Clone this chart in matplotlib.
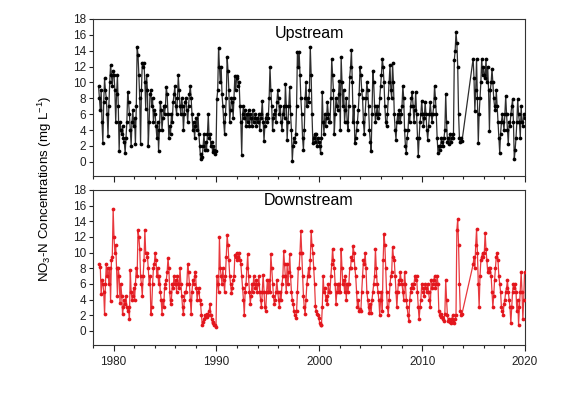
import numpy as np
import matplotlib
matplotlib.use("Agg")
import matplotlib.pyplot as plt
from matplotlib.ticker import MultipleLocator

nan = np.nan

# Monthly NO3-N concentrations (mg/L); one row = one year (Jan..Dec)
first_year = 1978
last_year = 2019

upstream_no3 = [
    nan, nan, nan, nan, nan, nan, 9.5, 8.0, 6.5, 9.0, 5.0, 2.4,          # 1978
    7.5, 10.5, 9.0, 8.0, 6.0, 3.3, 7.0, 10.0, 12.2, 11.0, 9.5, 11.5,    # 1979
    11.0, 9.0, 5.0, 8.5, 10.9, 7.0, 1.4, 5.0, 4.0, 3.5, 4.5, 3.0,       # 1980
    2.5, 1.1, 3.0, 5.0, 8.8, 7.5, 6.0, 4.0, 2.0, 5.0, 6.5, 4.5,         # 1981
    5.5, 2.2, 7.0, 14.5, 13.5, 11.0, 8.0, 2.2, 9.0, 12.5, 12.0, 12.5,   # 1982
    10.0, 6.7, 11.0, 9.0, 2.0, 5.0, 8.5, 9.0, 7.0, 8.0, 5.0, 6.5,       # 1983
    6.0, 4.5, 3.0, 5.0, 1.4, 4.0, 7.5, 6.5, 4.0, 5.5, 7.0, 6.0,         # 1984
    7.0, 9.4, 8.5, 6.0, 3.0, 4.5, 3.5, 6.0, 5.0, 7.5, 8.5, 9.5,         # 1985
    7.0, 6.0, 8.0, 10.9, 9.0, 7.0, 6.0, 8.0, 7.0, 4.0, 6.0, 7.5,        # 1986
    8.0, 6.5, 5.0, 7.0, 8.5, 9.6, 8.0, 6.0, 4.0, 5.0, 3.0, 4.5,         # 1987
    5.5, 4.0, 6.0, 3.5, 2.0, 0.3, 1.0, 0.6, 2.0, 3.5, 1.5, 2.5,         # 1988
    1.5, 3.5, 6.0, 3.0, 3.5, 2.0, 2.5, 1.2, 2.0, 1.5, 1.0, 1.3,         # 1989
    7.9, 9.0, 14.4, 12.0, 10.0, 12.0, 8.5, 7.0, 5.0, 3.5, 6.0, 8.0,     # 1990
    13.2, 11.5, 9.0, 5.0, 6.5, 8.0, 7.5, 5.5, 8.0, 10.8, 9.0, 10.5,     # 1991
    10.8, 9.5, 10.0, 7.0, 5.0, 0.9, 6.0, 7.0, 5.5, 6.5, 4.5, 6.0,       # 1992
    5.0, 6.5, 4.5, 6.0, 5.5, 4.5, 6.5, 5.0, 5.5, 6.0, 4.5, 5.5,         # 1993
    5.0, 6.0, 4.0, 5.5, 6.0, 7.7, 5.0, 2.6, 4.5, 5.5, 6.0, 5.0,         # 1994
    5.5, 8.0, 11.9, 9.0, 7.0, 4.0, 5.5, 6.0, 6.5, 5.0, 7.5, 9.0,        # 1995
    8.0, 6.0, 7.0, 5.0, 4.0, 6.0, 7.0, 5.5, 9.8, 7.0, 2.8, 5.0,         # 1996
    7.0, 9.4, 6.0, 4.0, 0.1, 2.0, 3.0, 2.5, 3.5, 7.0, 13.9, 12.0,       # 1997
    13.9, 11.0, 8.0, 6.0, 3.0, 1.5, 4.0, 8.0, 10.0, 7.0, 8.0, 7.5,      # 1998
    9.0, 14.5, 11.0, 6.0, 2.4, 3.0, 3.5, 2.5, 3.5, 2.0, 3.0, 2.5,       # 1999
    2.0, 1.1, 3.0, 8.8, 5.0, 3.5, 6.0, 4.5, 5.5, 7.5, 6.0, 5.0,         # 2000
    5.0, 8.0, 13.0, 11.0, 9.0, 3.5, 6.0, 8.0, 7.0, 6.5, 8.5, 10.2,      # 2001
    4.0, 13.2, 10.0, 7.0, 9.0, 5.0, 6.5, 8.0, 5.0, 4.0, 7.0, 10.7,      # 2002
    12.0, 14.1, 10.0, 5.0, 7.0, 2.4, 3.0, 4.0, 5.0, 6.5, 8.5, 11.9,     # 2003
    11.0, 9.0, 8.0, 5.0, 3.5, 6.0, 8.0, 10.0, 9.0, 7.0, 4.0, 2.5,       # 2004
    1.4, 6.0, 11.5, 10.0, 7.0, 5.0, 6.0, 7.0, 5.5, 6.0, 8.0, 9.5,       # 2005
    11.0, 13.0, 12.0, 10.0, 7.0, 5.0, 4.5, 6.0, 8.0, 10.0, 12.2, 9.0,   # 2006
    8.0, 12.4, 10.0, 6.0, 4.0, 2.8, 5.0, 6.0, 5.0, 6.5, 5.0, 6.0,       # 2007
    7.0, 9.6, 8.0, 4.0, 2.0, 1.1, 3.0, 4.0, 6.0, 5.0, 7.0, 8.0,         # 2008
    8.8, 7.0, 5.0, 6.5, 8.8, 6.0, 3.0, 0.7, 3.0, 5.0, 6.0, 7.7,         # 2009
    6.0, 4.5, 5.5, 7.5, 6.0, 4.0, 2.8, 4.5, 6.0, 7.5, 6.0, 5.0,         # 2010
    6.0, 7.0, 9.6, 8.0, 6.0, 3.0, 1.1, 2.0, 1.5, 2.0, 3.0, 2.5,         # 2011
    2.0, 3.0, 4.0, 8.6, 5.0, 2.5, 3.0, 2.2, 3.5, 2.5, 3.0, 3.5,         # 2012
    3.0, 12.8, 14.0, 16.3, 15.0, 12.0, 6.0, 3.0, 2.5, 3.0, 2.6, nan,    # 2013
    nan, nan, nan, nan, nan, nan, nan, nan, nan, nan, nan, 13.0,        # 2014
    10.5, 6.4, 9.0, 13.0, 8.0, 2.4, 6.0, 8.0, 10.0, 13.0, 11.0, 12.0,   # 2015
    11.0, 10.5, 13.0, 10.0, 12.0, 9.0, 3.9, 9.0, 10.0, 11.7, 10.0, 8.0, # 2016
    7.0, 6.5, 9.0, 7.0, 5.0, 3.0, 1.1, 3.5, 5.0, 6.0, 5.0, 4.0,         # 2017
    6.0, 8.3, 6.0, 4.0, 2.2, 5.0, 4.5, 6.0, 7.0, 7.9, 5.0, 0.3,         # 2018
    1.5, 3.0, 5.0, 7.9, 6.0, 5.0, 3.0, 7.0, 5.0, 4.5, 6.0, 5.5,         # 2019
]

downstream_no3 = [
    nan, nan, nan, nan, nan, nan, nan, 8.5, 8.2, 4.7, 6.5, 6.0,         # 1978
    5.0, 2.1, 6.0, 8.5, 7.0, 8.0, 6.0, 8.0, 3.8, 9.0, 9.5, 15.6,        # 1979
    12.0, 10.0, 11.0, 8.0, 4.5, 8.0, 7.0, 3.6, 6.0, 4.5, 2.1, 3.0,      # 1980
    4.0, 3.5, 4.5, 3.0, 2.5, 3.0, 1.5, 7.8, 5.0, 4.0, 4.5, 5.5,         # 1981
    4.0, 6.0, 8.0, 7.0, 12.9, 12.0, 10.5, 7.0, 6.0, 4.5, 7.0, 9.0,      # 1982
    12.9, 10.0, 10.0, 9.5, 8.0, 6.0, 7.0, 2.2, 3.0, 6.0, 8.0, 8.5,      # 1983
    10.0, 9.0, 7.0, 8.0, 6.0, 7.0, 5.0, 4.0, 2.2, 4.0, 3.0, 5.5,        # 1984
    6.0, 6.5, 7.5, 9.3, 8.0, 5.0, 3.5, 4.0, 6.0, 5.5, 7.0, 6.0,         # 1985
    6.5, 5.0, 7.0, 6.0, 5.5, 8.0, 6.0, 4.5, 3.0, 2.1, 4.0, 5.0,         # 1986
    5.0, 6.0, 8.5, 7.5, 6.0, 4.0, 2.1, 5.0, 6.5, 6.0, 7.0, 7.5,         # 1987
    5.5, 4.0, 5.0, 5.5, 4.0, 3.5, 2.0, 0.8, 1.2, 1.5, 2.0, 1.8,         # 1988
    2.2, 1.8, 2.0, 2.5, 3.5, 2.0, 1.5, 1.0, 1.2, 0.8, 0.7, 0.5,         # 1989
    7.0, 6.0, 5.0, 12.0, 8.0, 7.0, 6.0, 8.0, 6.5, 5.0, 7.0, 9.5,        # 1990
    12.2, 11.0, 9.0, 7.0, 6.0, 4.8, 5.5, 6.5, 7.0, 9.7, 9.5, 10.0,      # 1991
    9.0, 9.5, 10.0, 9.0, 8.5, 7.0, 5.5, 4.0, 2.0, 5.0, 6.0, 8.0,        # 1992
    9.8, 7.0, 5.0, 3.5, 4.5, 6.0, 5.0, 7.0, 6.0, 5.5, 6.5, 5.0,         # 1993
    6.0, 7.0, 5.0, 4.0, 3.0, 5.0, 7.2, 5.0, 3.0, 2.5, 5.0, 6.5,         # 1994
    5.0, 6.5, 5.0, 9.8, 8.0, 6.0, 4.5, 3.5, 4.0, 5.0, 6.5, 5.0,         # 1995
    4.0, 3.0, 5.0, 4.0, 6.0, 7.0, 10.2, 8.5, 7.0, 5.0, 8.5, 6.0,        # 1996
    7.5, 9.8, 7.0, 5.0, 4.0, 3.5, 2.5, 2.0, 1.7, 2.5, 5.0, 8.0,         # 1997
    8.0, 10.0, 12.8, 10.0, 7.0, 4.5, 3.0, 2.1, 4.0, 6.0, 7.0, 8.0,      # 1998
    7.0, 9.0, 12.7, 11.0, 10.0, 8.0, 6.0, 3.2, 2.5, 2.1, 2.0, 1.6,      # 1999
    1.0, 0.8, 0.7, 3.0, 7.0, 5.0, 5.5, 4.0, 4.5, 3.5, 6.0, 5.0,         # 2000
    5.0, 7.0, 8.5, 10.5, 9.0, 8.0, 6.0, 3.5, 5.0, 6.0, 5.0, 6.0,        # 2001
    5.0, 10.5, 8.0, 6.0, 6.5, 5.0, 7.0, 4.0, 6.0, 5.0, 6.0, 8.0,        # 2002
    8.0, 9.5, 9.0, 10.8, 10.0, 8.0, 7.0, 5.0, 3.0, 4.0, 2.5, 2.8,       # 2003
    2.5, 5.0, 7.0, 9.0, 8.5, 10.0, 8.0, 5.0, 4.0, 3.0, 2.3, 3.5,        # 2004
    2.3, 4.0, 5.0, 6.0, 7.0, 10.5, 8.0, 6.0, 5.0, 4.0, 2.0, 4.0,        # 2005
    5.0, 2.5, 9.0, 12.4, 11.0, 8.0, 5.0, 3.0, 2.0, 4.0, 6.0, 7.0,       # 2006
    7.5, 10.7, 9.5, 9.0, 7.0, 5.0, 3.0, 5.0, 6.5, 6.0, 7.5, 6.5,        # 2007
    6.0, 5.0, 4.0, 7.5, 6.0, 4.0, 3.0, 2.0, 1.3, 4.0, 5.0, 5.5,         # 2008
    6.0, 5.5, 6.0, 7.0, 6.5, 7.0, 5.0, 3.0, 1.5, 3.0, 4.0, 6.0,         # 2009
    5.5, 5.0, 4.5, 6.0, 5.5, 5.0, 6.0, 5.0, 4.0, 3.0, 6.5, 5.5,         # 2010
    6.0, 6.5, 7.0, 5.5, 6.0, 7.0, 6.0, 2.5, 2.0, 1.8, 2.2, 1.8,         # 2011
    1.5, 1.3, 2.2, 6.5, 4.0, 2.0, 1.3, 1.5, 1.2, 1.0, 1.5, 2.0,         # 2012
    1.2, 1.0, 1.5, 2.0, 12.9, 14.3, 11.0, 6.0, 2.5, 2.0, 2.2, nan,      # 2013
    nan, nan, nan, nan, nan, nan, nan, nan, nan, nan, nan, 8.5,         # 2014
    9.5, 8.0, 11.0, 13.0, 10.0, 6.0, 3.0, 7.0, 9.0, 9.5, 10.0, 9.5,     # 2015
    10.0, 12.5, 10.5, 9.0, 7.5, 8.0, 7.5, 8.0, 7.0, 5.0, 3.0, 4.5,      # 2016
    6.5, 8.0, 9.5, 10.0, 9.0, 7.0, 6.0, 5.0, 3.0, 2.5, 2.0, 3.5,        # 2017
    4.0, 5.0, 5.5, 6.5, 5.0, 4.0, 3.0, 1.0, 3.0, 5.0, 6.0, 5.5,         # 2018
    6.0, 5.0, 2.5, 4.0, 0.8, 3.0, 5.0, 7.5, 5.0, 1.5, 4.0, 7.5,         # 2019
]

panel_titles = ["Upstream", "Downstream"]
x_ticks = [1980, 1990, 2000, 2010, 2020]
y_ticks = [0, 2, 4, 6, 8, 10, 12, 14, 16, 18]

# ---- time axis (decimal years, mid-month) ----
years = np.repeat(np.arange(first_year, last_year + 1), 12)
months = np.tile(np.arange(12), last_year - first_year + 1)
t = years + (months + 0.5) / 12.0

plt.rcParams["font.family"] = ["Liberation Sans", "DejaVu Sans"]
plt.rcParams["mathtext.fontset"] = "custom"
plt.rcParams["mathtext.rm"] = "Liberation Sans"
plt.rcParams["mathtext.it"] = "Liberation Sans:italic"

fig = plt.figure(figsize=(5.78, 3.95), dpi=100)
ax_up = fig.add_axes([93 / 578, 1 - 176 / 395, 432 / 578, 157 / 395])
ax_dn = fig.add_axes([93 / 578, 1 - 345 / 395, 432 / 578, 155 / 395])

series = [
    (ax_up, np.array(upstream_no3), "#2e2e2e", "#000000", panel_titles[0], 16.2),
    (ax_dn, np.array(downstream_no3), "#e8393e", "#e3161d", panel_titles[1], 16.7),
]

for ax, vals, lc, mc, title, ty in series:
    ok = ~np.isnan(vals)
    ax.plot(t[ok], vals[ok], "-", color=lc, lw=0.9, zorder=2)
    ax.plot(t[ok], vals[ok], "o", color=mc, ms=2.7, mew=0, zorder=3)
    ax.set_xlim(1978, 2020)
    ax.set_ylim(-1.8, 18)
    ax.set_xticks(x_ticks)
    ax.xaxis.set_minor_locator(MultipleLocator(2))
    ax.set_yticks(y_ticks)
    ax.tick_params(axis="y", direction="out", length=3, width=0.8,
                   labelsize=8.5, pad=2, colors="#222222", right=False)
    ax.tick_params(axis="x", which="major", direction="out", length=4,
                   width=0.8, labelsize=8.5, pad=4, colors="#222222")
    ax.tick_params(axis="x", which="minor", direction="out", length=2.5,
                   width=0.8, colors="#222222")
    for sp in ax.spines.values():
        sp.set_color("#333333")
        sp.set_linewidth(0.8)
    ax.text(1999.0, ty, title, fontsize=11.5, ha="center", va="center",
            color="#000000")

ax_up.tick_params(axis="x", labelbottom=False)

fig.text(45 / 578, 1 - 189 / 395, "NO$_3$-N Concentrations (mg L$^{-1}$)",
         rotation=90, ha="center", va="center", fontsize=9.5)

fig.savefig("out.png", dpi=100, facecolor="white")
